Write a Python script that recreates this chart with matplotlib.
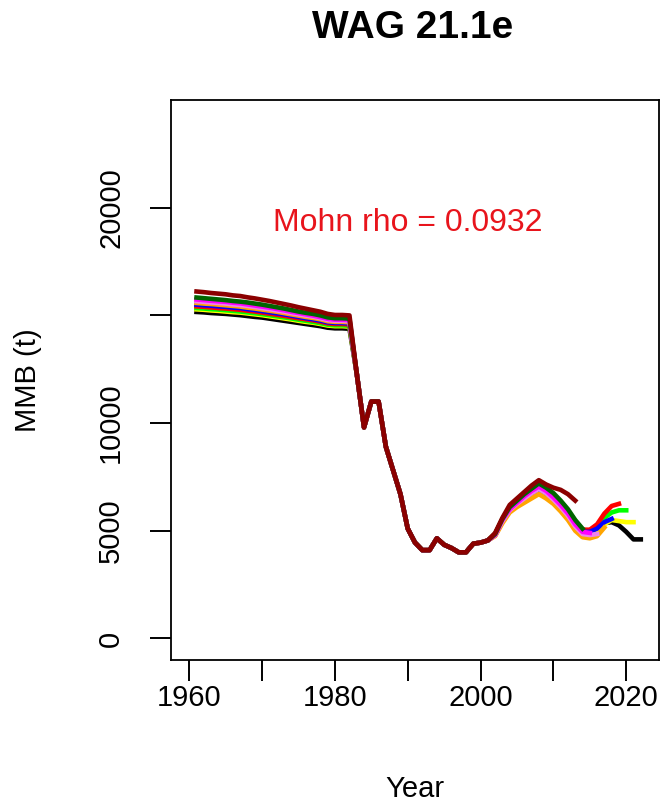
import matplotlib
matplotlib.use('Agg')
import matplotlib.pyplot as plt
import numpy as np

plt.rcParams['font.family'] = ['Liberation Sans', 'DejaVu Sans']

# retrospective peels, newest terminal year first
peel_names = ['2022', '2021', '2020', '2019', '2018', '2017', '2016', '2015', '2014', '2013']
peel_colors = ['black', '#FFFF00', '#00FF00', '#FF0000', '#0000FF', '#FFA500',
               '#EE82EE', '#FF00FF', '#006400', '#8B0000']

early_years = list(range(1961, 1983))
early = {
    '2013': [16110, 16080, 16040, 16010, 15980, 15930, 15900, 15840, 15790, 15730, 15670,
             15600, 15530, 15460, 15380, 15310, 15240, 15170, 15070, 15020, 15020, 15000],
    '2014': [15830, 15800, 15770, 15740, 15710, 15670, 15640, 15600, 15550, 15500, 15440,
             15380, 15320, 15250, 15180, 15120, 15070, 15000, 14910, 14870, 14870, 14850],
    '2015': [15740, 15710, 15680, 15650, 15630, 15590, 15560, 15510, 15460, 15410, 15360,
             15300, 15240, 15170, 15110, 15050, 14990, 14920, 14840, 14800, 14800, 14780],
    '2016': [15660, 15630, 15600, 15580, 15550, 15510, 15480, 15440, 15390, 15340, 15290,
             15230, 15180, 15110, 15050, 14990, 14940, 14870, 14790, 14750, 14750, 14730],
    '2017': [15580, 15550, 15530, 15500, 15470, 15440, 15410, 15360, 15320, 15270, 15220,
             15170, 15110, 15050, 14990, 14930, 14880, 14820, 14730, 14700, 14700, 14680],
    '2018': [15500, 15470, 15450, 15420, 15400, 15360, 15340, 15290, 15250, 15200, 15150,
             15100, 15050, 14990, 14930, 14870, 14820, 14760, 14680, 14650, 14650, 14630],
    '2019': [15420, 15400, 15370, 15340, 15320, 15290, 15260, 15220, 15180, 15130, 15080,
             15030, 14980, 14920, 14870, 14820, 14770, 14710, 14630, 14600, 14600, 14580],
    '2020': [15340, 15320, 15290, 15270, 15240, 15210, 15180, 15140, 15100, 15060, 15010,
             14960, 14910, 14860, 14800, 14750, 14700, 14640, 14570, 14540, 14540, 14520],
    '2021': [15280, 15260, 15230, 15210, 15180, 15150, 15130, 15090, 15050, 15010, 14960,
             14910, 14860, 14810, 14750, 14700, 14660, 14600, 14530, 14500, 14500, 14480],
    '2022': [15160, 15140, 15110, 15090, 15070, 15040, 15010, 14970, 14930, 14900, 14850,
             14800, 14750, 14700, 14650, 14600, 14550, 14500, 14430, 14400, 14400, 14380],
}

# years where all peels agree
mid_years = list(range(1983, 2002))
mid = [12300, 9800, 11000, 11000, 8900, 7800, 6700, 5100, 4450, 4100, 4100, 4650,
       4350, 4200, 4000, 4000, 4400, 4450, 4550]

# 2002 up to each terminal year
late = {
    '2013': [4900, 5600, 6200, 6500, 6800, 7100, 7350, 7150, 7000, 6900, 6700, 6400],
    '2014': [4850, 5550, 6100, 6400, 6700, 6950, 7200, 7000, 6750, 6400, 6000, 5500, 5100],
    '2015': [4800, 5500, 6000, 6300, 6600, 6850, 7050, 6850, 6550, 6200, 5800, 5300, 4950,
             4900],
    '2016': [4800, 5450, 5950, 6250, 6500, 6750, 6950, 6750, 6450, 6100, 5700, 5200, 4850,
             4800, 4850],
    '2017': [4750, 5350, 5850, 6100, 6300, 6500, 6700, 6500, 6250, 5900, 5500, 5000, 4700,
             4650, 4750, 5150],
    '2018': [4800, 5450, 5950, 6250, 6500, 6750, 6950, 6750, 6450, 6100, 5700, 5250, 4950,
             4950, 5100, 5400, 5550],
    '2019': [4850, 5500, 6000, 6300, 6600, 6850, 7050, 6850, 6600, 6250, 5850, 5400, 5050,
             5050, 5300, 5800, 6150, 6250],
    '2020': [4850, 5550, 6100, 6400, 6700, 6950, 7150, 6950, 6700, 6350, 5950, 5450, 5050,
             5000, 5150, 5600, 5850, 5950, 5950],
    '2021': [4800, 5400, 5900, 6150, 6400, 6600, 6800, 6600, 6350, 6000, 5600, 5100, 4800,
             4800, 4950, 5300, 5500, 5450, 5400, 5400],
    '2022': [4800, 5450, 5950, 6200, 6450, 6700, 6900, 6700, 6400, 6050, 5650, 5150, 4900,
             4900, 5050, 5350, 5400, 5250, 4950, 4600, 4600],
}

mohn_rho = 0.0932

fig = plt.figure(figsize=(6.67, 8.10), dpi=100)
ax = fig.add_axes([0.2564, 0.1852, 0.7316, 0.6913])

for name, col in zip(peel_names, peel_colors):
    ys = early[name] + mid + late[name]
    xs = early_years + mid_years + list(range(2002, 2002 + len(late[name])))
    ax.plot(xs, ys, color=col, lw=3.3, solid_joinstyle='round')

ax.set_xlim(1957.5, 2024.5)
ax.set_ylim(-1000, 25000)

xt = list(range(1960, 2021, 10))
ax.set_xticks(xt)
ax.set_xticklabels([str(x) if x % 20 == 0 else '' for x in xt])
yt = [0, 5000, 10000, 15000, 20000]
ax.set_yticks(yt)
ax.set_yticklabels(['0', '5000', '10000', '', '20000'], rotation=90, va='center')

ax.tick_params(axis='both', length=15, width=1.4, labelsize=21, direction='out')
ax.tick_params(axis='x', pad=2)
ax.tick_params(axis='y', pad=18)
for s in ax.spines.values():
    s.set_linewidth(1.3)

ax.text(1990, 19300, 'Mohn rho = %s' % mohn_rho, color='#E8141C', fontsize=23,
        ha='center', va='center')

ax.set_xlabel('Year', fontsize=21, labelpad=46)
ax.set_ylabel('MMB (t)', fontsize=21, labelpad=40)
fig.text(0.619, 0.965, 'WAG 21.1e', fontsize=28, fontweight='bold',
         ha='center', va='center')

fig.savefig('out.png', dpi=100)
